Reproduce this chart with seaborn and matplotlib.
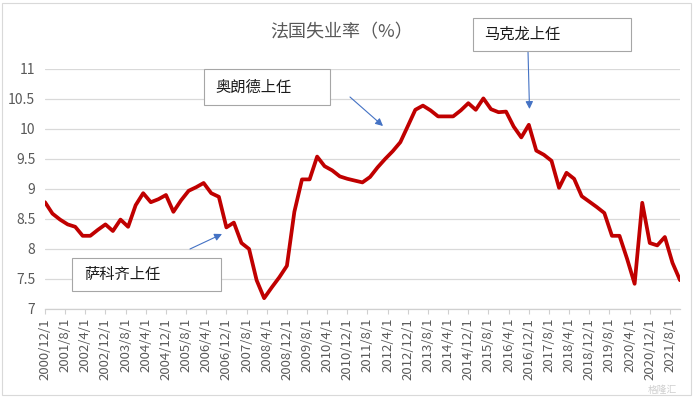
import matplotlib
matplotlib.use('Agg')
import matplotlib.pyplot as plt
import matplotlib.patches as mpatches
import pandas as pd
import seaborn as sns

# quarterly unemployment rate, 2000Q4 .. 2021Q4
start_date = '2000-12-01'
rates = [
    8.78, 8.59, 8.49, 8.41, 8.37, 8.22, 8.22, 8.32, 8.41, 8.30,
    8.49, 8.37, 8.73, 8.93, 8.78, 8.83, 8.90, 8.62, 8.81, 8.97,
    9.03, 9.10, 8.93, 8.87, 8.36, 8.44, 8.10, 8.00, 7.48, 7.18,
    7.36, 7.53, 7.72, 8.62, 9.16, 9.16, 9.54, 9.38, 9.31, 9.21,
    9.17, 9.14, 9.11, 9.20, 9.36, 9.50, 9.63, 9.78, 10.05, 10.32,
    10.39, 10.31, 10.21, 10.21, 10.21, 10.31, 10.43, 10.32, 10.51, 10.33,
    10.28, 10.29, 10.04, 9.86, 10.07, 9.64, 9.57, 9.47, 9.02, 9.27,
    9.17, 8.88, 8.79, 8.70, 8.60, 8.22, 8.22, 7.84, 7.42, 8.77,
    8.10, 8.06, 8.20, 7.77, 7.48,
]
y_ticks = [7, 7.5, 8, 8.5, 9, 9.5, 10, 10.5, 11]
y_labels = ['7', '7.5', '8', '8.5', '9', '9.5', '10', '10.5', '11']
title = '法国失业率（%）'
notes = ['萨科齐上任', '奥朗德上任', '马克龙上任']

dates = pd.date_range(start_date, periods=len(rates), freq='3MS')
df = pd.DataFrame({'date': dates, 'rate': rates})
tick_dates = pd.date_range(start_date, '2021-08-01', freq='8MS')

sns.set_style('white')
plt.rcParams['font.family'] = ['Noto Sans CJK SC', 'DejaVu Sans']

W, H = 695, 398
fig = plt.figure(figsize=(W / 100, H / 100), dpi=100)
ax = fig.add_axes([45 / W, 1 - 309 / H, (680 - 45) / W, (309 - 69) / H])

def fx(px):
    return px / W

def fy(py):
    return 1 - py / H

sns.lineplot(data=df, x='date', y='rate', color='#C00000', linewidth=2.7, ax=ax)

ax.set_xlim(dates[0], dates[-1])
ax.set_ylim(7, 11)
ax.set_yticks(y_ticks)
ax.set_yticklabels(y_labels)
ax.set_xticks(tick_dates)
ax.set_xticklabels([f'{d.year}/{d.month}/{d.day}' for d in tick_dates], rotation=90)
ax.set_xlabel('')
ax.set_ylabel('')

ax.grid(axis='y', color='#d9d9d9', linewidth=0.9)
ax.set_axisbelow(True)
for s in ['left', 'right', 'top']:
    ax.spines[s].set_visible(False)
ax.spines['bottom'].set_color('#d0d0d0')
ax.spines['bottom'].set_linewidth(0.9)
ax.tick_params(axis='x', direction='out', length=3.5, width=0.8, color='#d0d0d0',
               labelsize=9.5, labelcolor='#595959', pad=3, bottom=True)
ax.tick_params(axis='y', length=0, labelsize=10, labelcolor='#595959', pad=7)

fig.text(fx(342), fy(32), title, ha='center', va='center', fontsize=13, color='#595959')

# annotation boxes (left, top, right, bottom in pixels) and text
boxes = [(72, 258, 221, 291), (204, 69, 330, 105), (473, 18, 631, 51)]
text_x = [84, 215, 484]
for (l, t, r, b), tx, note in zip(boxes, text_x, notes):
    fig.patches.append(mpatches.Rectangle((fx(l), fy(b)), fx(r) - fx(l), fy(t) - fy(b),
                                          transform=fig.transFigure, facecolor='white',
                                          edgecolor='#a6a6a6', linewidth=0.8, zorder=5))
    fig.text(fx(tx), fy((t + b) / 2), note, ha='left', va='center', fontsize=11,
             color='#1a1a1a', zorder=6)

arrows = [((190, 249), (222, 234)), ((350, 97), (383, 126)), ((528, 51), (529.5, 109))]
for (x0, y0), (x1, y1) in arrows:
    ax.annotate('', xy=(fx(x1), fy(y1)), xytext=(fx(x0), fy(y0)),
                xycoords='figure fraction', textcoords='figure fraction',
                arrowprops=dict(arrowstyle='-|>', color='#4472C4', lw=0.8,
                                mutation_scale=11, shrinkA=0, shrinkB=0))

# outer chart border and watermark
fig.patches.append(mpatches.Rectangle((fx(2), fy(395)), fx(691) - fx(2), fy(3) - fy(395),
                                      transform=fig.transFigure, fill=False,
                                      edgecolor='#d9d9d9', linewidth=0.8))
fig.text(fx(662), fy(390), '格隆汇', ha='center', va='center', fontsize=7,
         color='#cfcfcf')

fig.savefig('out.png', dpi=100)
